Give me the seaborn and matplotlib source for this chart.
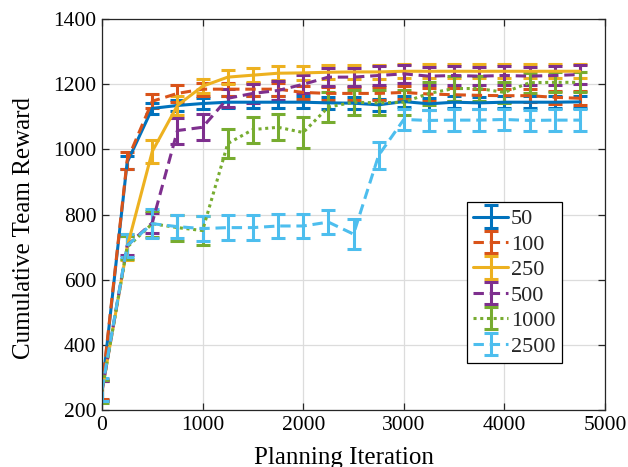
import matplotlib
matplotlib.use("Agg")
import matplotlib.pyplot as plt
import seaborn as sns

# Planning iterations at which the team reward was evaluated
iterations = [0, 250, 500, 750, 1000, 1250, 1500, 1750, 2000, 2250,
              2500, 2750, 3000, 3250, 3500, 3750, 4000, 4250, 4500, 4750]

labels = ["50", "100", "250", "500", "1000", "2500"]

reward_50 = [260, 960, 1126, 1135, 1141, 1145, 1145, 1145, 1145, 1143,
             1142, 1137, 1147, 1140, 1145, 1143, 1145, 1145, 1145, 1146]
err_50 = [30, 20, 18, 18, 18, 18, 18, 18, 18, 18,
          18, 18, 18, 18, 18, 18, 18, 18, 18, 18]

reward_100 = [265, 966, 1148, 1172, 1185, 1185, 1185, 1185, 1175, 1172,
              1172, 1172, 1175, 1170, 1168, 1166, 1165, 1165, 1160, 1157]
err_100 = [30, 25, 22, 25, 20, 20, 20, 20, 20, 20,
           20, 20, 20, 20, 20, 20, 20, 20, 20, 22]

reward_250 = [258, 700, 994, 1135, 1194, 1222, 1228, 1234, 1235, 1237,
              1238, 1238, 1240, 1240, 1240, 1240, 1240, 1240, 1240, 1240]
err_250 = [30, 40, 35, 30, 22, 22, 22, 22, 22, 22,
           22, 22, 22, 22, 22, 22, 22, 22, 22, 22]

reward_500 = [258, 705, 775, 1058, 1068, 1157, 1172, 1181, 1200, 1222,
              1222, 1227, 1232, 1225, 1227, 1225, 1227, 1225, 1227, 1230]
err_500 = [30, 30, 30, 40, 40, 28, 28, 28, 28, 28,
           28, 28, 28, 28, 28, 28, 28, 28, 28, 28]

reward_1000 = [258, 700, 772, 760, 751, 1018, 1061, 1068, 1052, 1130,
               1145, 1143, 1145, 1172, 1187, 1187, 1175, 1205, 1206, 1206]
err_1000 = [35, 35, 40, 40, 45, 45, 40, 40, 48, 46,
            38, 38, 38, 35, 38, 38, 32, 31, 31, 31]

reward_2500 = [263, 705, 772, 763, 757, 760, 760, 765, 765, 777,
               740, 982, 1092, 1089, 1090, 1090, 1092, 1089, 1090, 1090]
err_2500 = [36, 35, 44, 35, 38, 38, 38, 38, 38, 36,
            46, 41, 33, 33, 33, 33, 33, 33, 33, 33]

rewards = [reward_50, reward_100, reward_250, reward_500, reward_1000, reward_2500]
errors = [err_50, err_100, err_250, err_500, err_1000, err_2500]

sns.set_theme(style="whitegrid")
plt.rcParams["font.family"] = ["Liberation Serif", "DejaVu Serif"]

palette = ["#0072BD", "#D95319", "#EDB120", "#7E2F8E", "#77AC30", "#4DBEEE"]
dash = (0, (3.4, 1.9))
styles = ["-", dash, "-", dash, (0, (1.0, 1.2)), dash]

fig = plt.figure(figsize=(6.28, 4.67), dpi=100)
ax = fig.add_axes([0.1624, 0.122, 0.801, 0.837])

for vals, errs, lab, col, ls in zip(rewards, errors, labels, palette, styles):
    cont = ax.errorbar(iterations, vals, yerr=errs, color=col, linestyle=ls,
                       linewidth=2.2, elinewidth=2.2, capsize=5, capthick=2.2,
                       label=lab)
    cont[2][0].set_linestyle("-")

ax.set_xlim(0, 5000)
ax.set_ylim(200, 1400)
ax.set_xticks([0, 1000, 2000, 3000, 4000, 5000])
ax.set_yticks([200, 400, 600, 800, 1000, 1200, 1400])
ax.grid(True, color="#dcdcdc", linewidth=0.9)
ax.set_facecolor("white")
for sp in ax.spines.values():
    sp.set_color("#262626")
    sp.set_linewidth(0.9)
    sp.set_visible(True)
ax.tick_params(direction="in", length=5, width=0.9, colors="#262626",
               labelcolor="black", labelsize=15.5, top=True, right=True,
               left=True, bottom=True, pad=4)

ax.set_xlabel("Planning Iteration", fontsize=18, labelpad=9, color="black")
ax.set_ylabel("Cumulative Team Reward", fontsize=18, labelpad=13, color="black")
ax.xaxis.label.set_x(0.481)
ax.yaxis.label.set_y(0.465)

leg = ax.legend(loc="upper left", bbox_to_anchor=(0.725, 0.532), borderaxespad=0,
                fontsize=16, frameon=True, fancybox=False, framealpha=1,
                handlelength=1.55, handletextpad=0.15, labelspacing=0.22,
                borderpad=0.3)
leg.get_frame().set_edgecolor("black")
leg.get_frame().set_linewidth(0.9)

fig.savefig("out.png", dpi=100)
